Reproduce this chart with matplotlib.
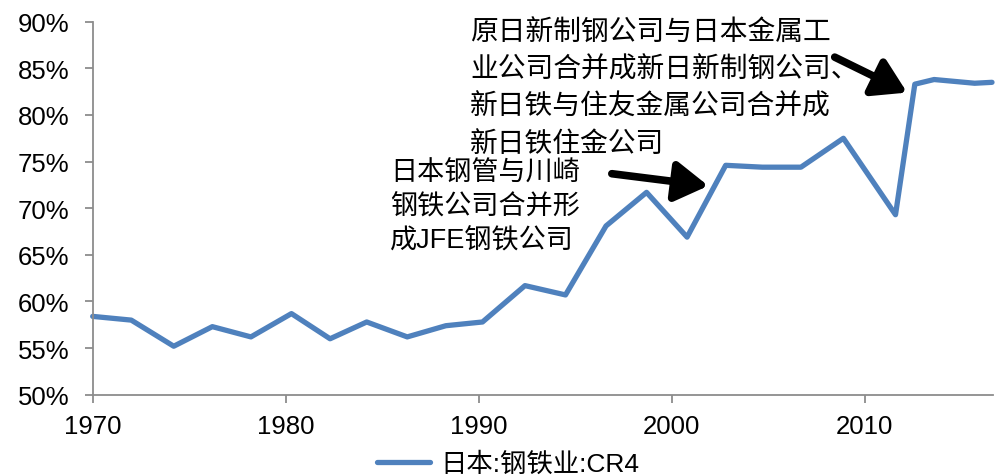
import matplotlib
matplotlib.use("Agg")
import matplotlib.pyplot as plt
from matplotlib.ticker import FuncFormatter, MultipleLocator

# Japan steel industry CR4 concentration ratio (%)
years = [1970.0, 1972.0, 1974.2, 1976.2, 1978.2, 1980.3, 1982.3, 1984.2,
         1986.3, 1988.3, 1990.2, 1992.4, 1994.5, 1996.6, 1998.7, 2000.8,
         2002.8, 2004.7, 2006.7, 2008.9, 2011.6, 2012.6, 2013.6, 2015.7,
         2016.6]
cr4 = [58.4, 58.0, 55.2, 57.3, 56.2, 58.7, 56.0, 57.8, 56.2, 57.4, 57.8,
       61.7, 60.7, 68.1, 71.7, 66.9, 74.6, 74.4, 74.4, 77.5, 69.3, 83.3,
       83.8, 83.4, 83.5]
series_label = "日本:钢铁业:CR4"
x_ticks = [1970, 1980, 1990, 2000, 2010]

note_jfe = "日本钢管与川崎\n钢铁公司合并形\n成JFE钢铁公司"
note_nssmc = ("原日新制钢公司与日本金属工\n业公司合并成新日新制钢公司、\n"
              "新日铁与住友金属公司合并成\n新日铁住金公司")

LATIN = "Liberation Sans"
CJK = "Noto Sans CJK SC"
plt.rcParams["font.family"] = [LATIN, CJK, "DejaVu Sans"]

fig = plt.figure(figsize=(10.03, 4.77), dpi=100)
ax = fig.add_axes([0.0924, 0.1704, 0.8976, 0.7820])

line_color = "#4F81BD"
ax.plot(years, cr4, color=line_color, lw=3.8, solid_joinstyle="round",
        solid_capstyle="round", label=series_label, clip_on=False)

ax.set_xlim(1970, 2016.65)
ax.set_ylim(50, 90)
ax.set_xticks(x_ticks)
ax.yaxis.set_major_locator(MultipleLocator(5))
ax.yaxis.set_major_formatter(FuncFormatter(lambda v, p: f"{v:.0f}%"))

axis_grey = "#8C8C8C"
for side in ("top", "right"):
    ax.spines[side].set_visible(False)
for side in ("left", "bottom"):
    ax.spines[side].set_color(axis_grey)
    ax.spines[side].set_linewidth(1.3)
ax.tick_params(axis="both", direction="out", color=axis_grey, width=1.3,
               length=6, labelsize=18.5, labelcolor="black")
ax.tick_params(axis="y", pad=11)
ax.tick_params(axis="x", pad=8)

# annotations for the two mergers
ax.text(1985.4, 70.13, note_jfe, fontsize=19.5, ha="left", va="center",
        linespacing=1.40)
ax.annotate("", xy=(2001.9, 72.4), xytext=(1996.9, 73.7),
            arrowprops=dict(arrowstyle="-|>,head_length=0.9,head_width=0.55",
                            lw=5.5, color="black", mutation_scale=22,
                            shrinkA=0, shrinkB=0))

ax.text(1989.55, 82.9, note_nssmc, fontsize=20, ha="left", va="center",
        linespacing=1.54)
ax.annotate("", xy=(2012.2, 82.4), xytext=(2008.45, 86.2),
            arrowprops=dict(arrowstyle="-|>,head_length=0.9,head_width=0.55",
                            lw=5.5, color="black", mutation_scale=22,
                            shrinkA=0, shrinkB=0))

fig.legend(loc="center", bbox_to_anchor=(0.507, 0.025), frameon=False,
           fontsize=19, handlelength=2.0, handletextpad=0.4,
           borderaxespad=0)

fig.savefig("out.png", dpi=100)
